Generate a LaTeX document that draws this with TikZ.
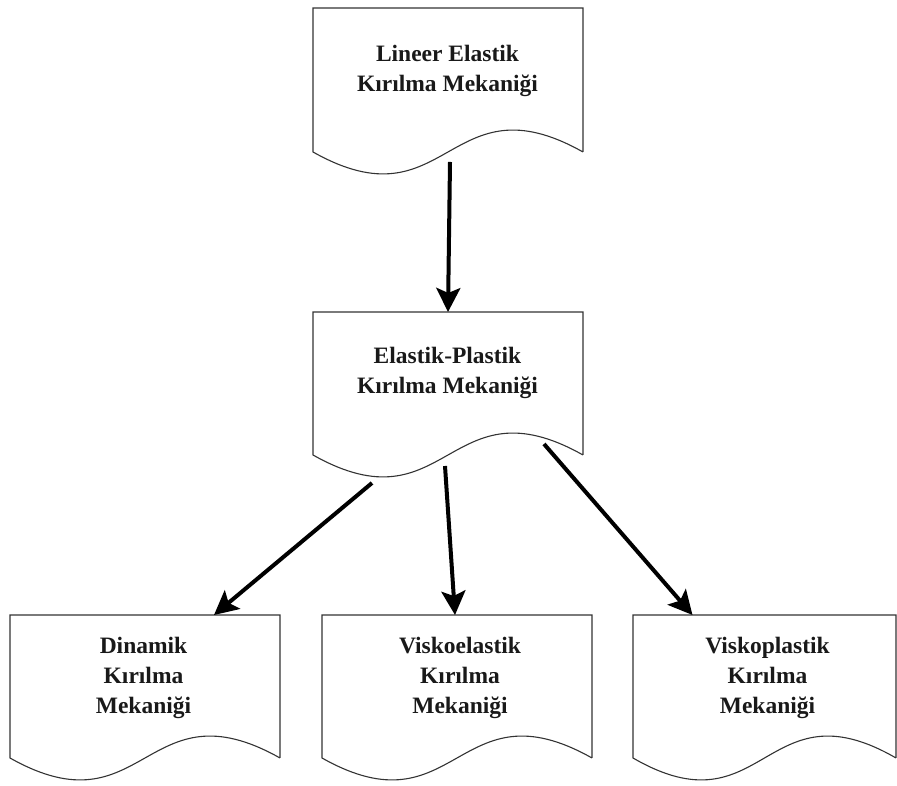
\documentclass[tikz,border=0pt]{standalone}
\usepackage{fontspec}
\setmainfont{Liberation Serif}
\usetikzlibrary{arrows.meta}

% Document-shaped outline (flat top, wavy bottom) around a named box node
\newcommand\docoutline[1]{%
  \draw[boxline] (#1.south east) -- (#1.north east) -- (#1.north west) -- (#1.south west)
    .. controls ([yshift=-76pt]#1.south) and ([yshift=76pt]#1.south) .. (#1.south east);}

\begin{document}
\begin{tikzpicture}[x=1pt,y=1pt,
  boxline/.style={draw=black!80, line width=1.1pt},
  docbox/.style={minimum width=270pt, minimum height=143pt, inner sep=0pt, outer sep=0pt},
  caption/.style={font=\fontsize{23.5}{30}\selectfont\bfseries, align=center, text=black!90, inner sep=0pt},
  flow/.style={line width=4pt, -{Stealth[length=24pt,width=24pt,inset=5pt]}}]
\useasboundingbox (0,0) rectangle (897,786);

% boxes
\node[docbox, minimum height=144pt] (lefm) at (448,706) {};
\node[docbox] (epfm) at (448,402.5) {};
\node[docbox] (dyn)  at (145,99.5) {};
\node[docbox] (visco) at (457,99.5) {};
\node[docbox, minimum width=263pt] (vplast) at (764.5,99.5) {};

\docoutline{lefm}
\docoutline{epfm}
\docoutline{dyn}
\docoutline{visco}
\docoutline{vplast}

% captions
\node[caption] (tlefm) at (447.5,715) {Lineer Elastik\\Kırılma Mekaniği};
\node[caption] (tepfm) at (447.5,413) {Elastik-Plastik\\Kırılma Mekaniği};
\node[caption] (tdyn) at (143.5,108) {Dinamik\\Kırılma\\Mekaniği};
\node[caption] (tvisco) at (460,108) {Viskoelastik\\Kırılma\\Mekaniği};
\node[caption] (tvplast) at (767.5,108) {Viskoplastik\\Kırılma\\Mekaniği};

% connector start points below the wavy edges
\coordinate (s1) at (450,624);
\coordinate (s2) at (372,303);
\coordinate (s3) at (445,320);
\coordinate (s4) at (544,342);

\draw[flow] (s1) -- (epfm.north);
\draw[flow] (s2) -- ([xshift=69pt]dyn.north);
\draw[flow] (s3) -- ([xshift=-2pt]visco.north);
\draw[flow] (s4) -- ([xshift=-72pt]vplast.north);
\end{tikzpicture}
\end{document}
